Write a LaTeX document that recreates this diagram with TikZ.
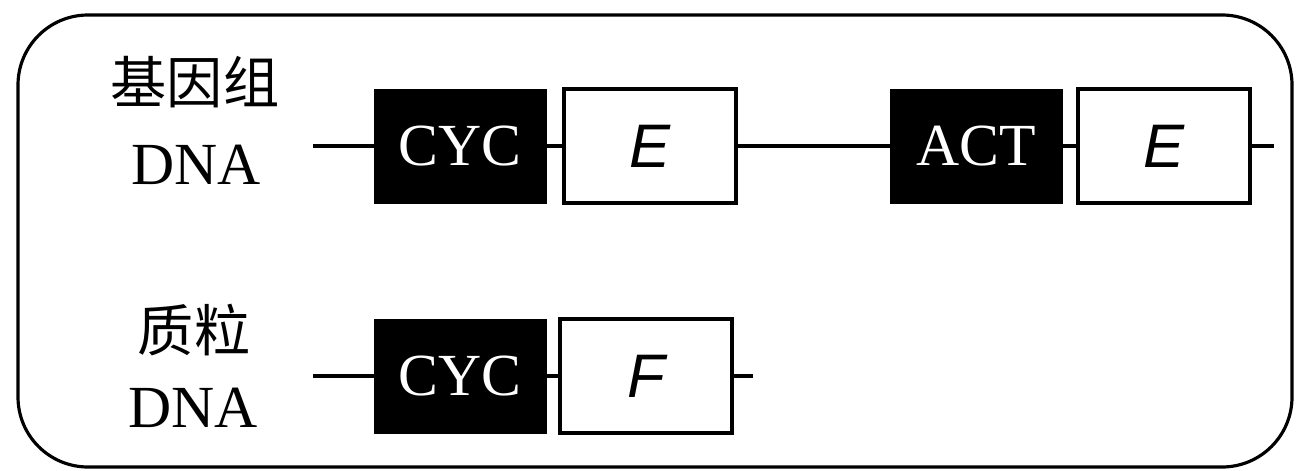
\documentclass[tikz,border=0pt]{standalone}
\usepackage{fontspec}
\setmainfont{Liberation Serif}
\newfontfamily\cjk{Noto Sans CJK SC}
\newfontfamily\genefont{Liberation Sans}
\tikzset{
  promoter/.style={fill=black, draw=black, text=white, inner sep=0pt,
    minimum width=3.44cm, minimum height=2.28cm, font=\fontsize{34}{34}\selectfont},
  gene/.style={draw=black, line width=2.1pt, fill=white, inner sep=0pt,
    minimum width=3.44cm, minimum height=2.28cm, font=\genefont\itshape\fontsize{35}{35}\selectfont},
  strand/.style={line width=2.1pt},
  label/.style={inner sep=0pt, font=\fontsize{34}{34}\selectfont},
  cjklabel/.style={inner sep=0pt, font=\cjk\fontsize{32}{32}\selectfont}
}
\begin{document}
\begin{tikzpicture}[x=0.02cm, y=-0.02cm]
        \useasboundingbox (0,0) rectangle (1297,470);
        \draw [line width=1.8pt, rounded corners=1.4cm] (18,15) rectangle (1292,467);
        % genome
        \node [cjklabel] (genome) at (195,82) {基因组};
        \node [label] (dna1) at (196,165) {DNA};
        \coordinate (start1) at (313,146);
        \node [promoter] (cyc1) at (460,146) {CYC};
        \node [gene] (e1) at (650,146) {E};
        \node [promoter] (act) at (976,146) {ACT};
        \node [gene] (e2) at (1164,146) {E};
        \coordinate (end1) at (1274,146);
        \draw [strand] (start1) -- (cyc1.west);
        \draw [strand] (cyc1.east) -- (e1.west);
        \draw [strand] (e1.east) -- (act.west);
        \draw [strand] (act.east) -- (e2.west);
        \draw [strand] (e2.east) -- (end1);
        % plasmid
        \node [cjklabel] (plasmid) at (194,330) {质粒};
        \node [label] (dna2) at (193,408) {DNA};
        \coordinate (start2) at (313,376);
        \node [promoter] (cyc2) at (460,376) {CYC};
        \node [gene] (f) at (646,376) {F};
        \coordinate (end2) at (753,376);
        \draw [strand] (start2) -- (cyc2.west);
        \draw [strand] (cyc2.east) -- (f.west);
        \draw [strand] (f.east) -- (end2);
\end{tikzpicture}
\end{document}
